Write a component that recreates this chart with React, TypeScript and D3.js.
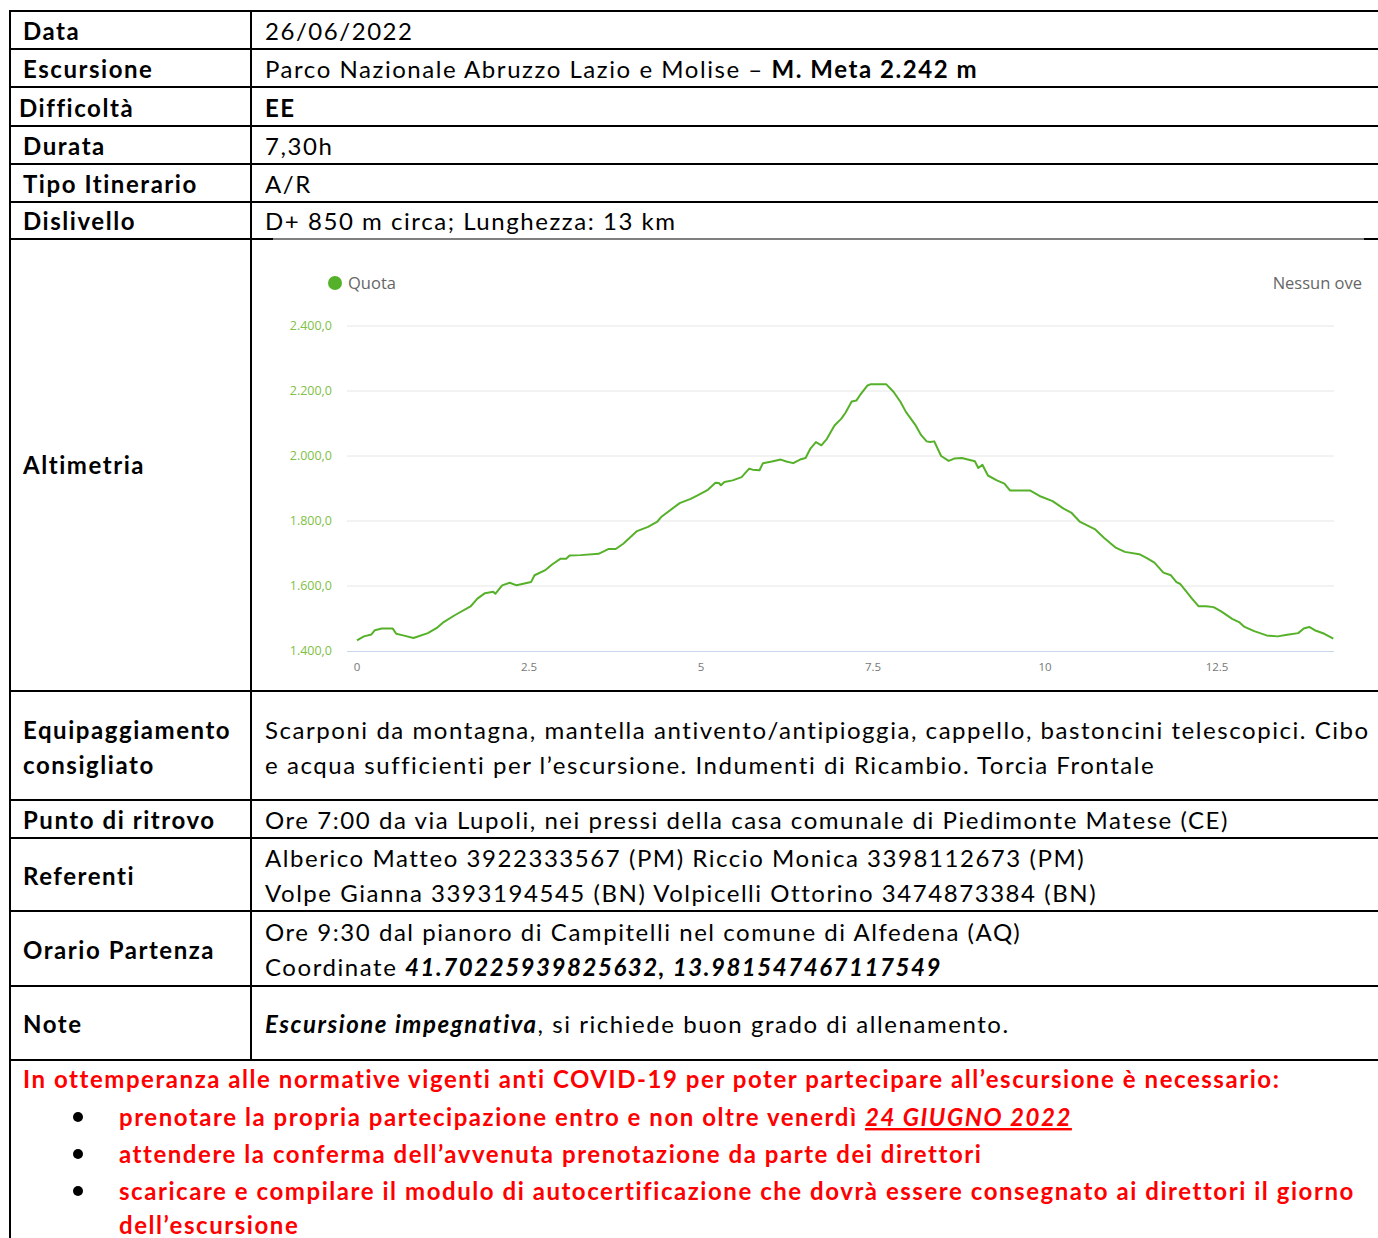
import React from 'react';
import * as d3 from 'd3';

// elevation profile (km, m)
const km = [0, 0.1, 0.21, 0.26, 0.36, 0.52, 0.57, 0.67, 0.82, 1.03, 1.16, 1.26, 1.42, 1.65, 1.75, 1.86, 1.98, 2.01, 2.11, 2.22, 2.32, 2.53, 2.58, 2.73, 2.84, 2.96, 3.04, 3.09, 3.25, 3.51, 3.66, 3.76, 3.87, 4.07, 4.23, 4.36, 4.43, 4.69, 4.85, 4.95, 5.1, 5.21, 5.26, 5.29, 5.34, 5.46, 5.59, 5.7, 5.75, 5.85, 5.9, 6.03, 6.16, 6.24, 6.34, 6.44, 6.52, 6.59, 6.67, 6.75, 6.83, 6.94, 7.04, 7.1, 7.19, 7.26, 7.31, 7.42, 7.47, 7.69, 7.8, 7.9, 7.98, 8.12, 8.2, 8.28, 8.33, 8.39, 8.49, 8.6, 8.68, 8.79, 8.98, 9.03, 9.09, 9.17, 9.3, 9.41, 9.49, 9.78, 9.92, 10.11, 10.27, 10.38, 10.51, 10.73, 10.86, 11.02, 11.16, 11.37, 11.48, 11.59, 11.72, 11.83, 11.91, 11.96, 12.02, 12.13, 12.23, 12.34, 12.45, 12.56, 12.72, 12.82, 12.9, 13.04, 13.22, 13.38, 13.52, 13.68, 13.76, 13.84, 13.92, 14.06, 14.19];
const quota = [1433, 1445, 1451, 1464, 1469, 1469, 1453, 1448, 1440, 1455, 1471, 1489, 1510, 1537, 1561, 1578, 1582, 1576, 1602, 1610, 1602, 1612, 1633, 1648, 1667, 1684, 1684, 1694, 1695, 1699, 1714, 1714, 1730, 1769, 1782, 1797, 1814, 1855, 1868, 1879, 1896, 1918, 1917, 1910, 1920, 1925, 1935, 1961, 1958, 1956, 1978, 1983, 1989, 1983, 1978, 1989, 1994, 2023, 2043, 2033, 2053, 2094, 2115, 2133, 2168, 2171, 2187, 2217, 2221, 2221, 2197, 2166, 2135, 2094, 2064, 2045, 2043, 2045, 2000, 1985, 1992, 1994, 1984, 1963, 1973, 1940, 1925, 1915, 1894, 1894, 1877, 1861, 1838, 1826, 1797, 1774, 1748, 1719, 1705, 1698, 1686, 1672, 1641, 1633, 1612, 1607, 1592, 1563, 1538, 1538, 1535, 1522, 1499, 1489, 1474, 1461, 1448, 1445, 1450, 1455, 1469, 1474, 1464, 1453, 1438];
const yTicks = [1400, 1600, 1800, 2000, 2200, 2400];
const xTicks = [0, 2.5, 5, 7.5, 10, 12.5];
const seriesName = 'Quota';

// table rows
const simpleRows = [
  { label: 'Data', value: '26/06/2022' },
  { label: 'Difficoltà', value: 'EE', bold: true },
  { label: 'Durata', value: '7,30h' },
  { label: 'Tipo Itinerario', value: 'A/R' },
  { label: 'Dislivello', value: 'D+ 850 m circa; Lunghezza:  13 km' },
];
const bullets = [
  'prenotare la propria partecipazione entro e non oltre venerdì ',
  'attendere la conferma dell’avvenuta prenotazione da parte dei direttori',
  'scaricare e compilare il modulo di autocertificazione che dovrà essere consegnato ai direttori il giorno',
];

const itLocale = d3.formatLocale({ decimal: ',', thousands: '.', grouping: [3], currency: ['', '€'] });
const fmtY = itLocale.format(',.1f');

const FONT = "Lato, 'Open Sans', sans-serif";
const CHART_FONT = "'Open Sans', sans-serif";
const LINE_GREEN = '#56b12a';

function Chart() {
  const x = d3.scaleLinear().domain([0, 14.2]).range([357, 1334]);
  const y = d3.scaleLinear().domain([1400, 2400]).range([651, 326]);
  const pts = km.map((k, i) => [k, quota[i]] as [number, number]);
  const line = d3.line<[number, number]>().x(d => x(d[0])).y(d => y(d[1]));
  return (
    <g fontFamily={CHART_FONT}>
      <circle cx={335} cy={283} r={7} fill={LINE_GREEN} />
      <text x={348} y={289} fontSize={16.5} fill="#666">{seriesName}</text>
      <text x={1362} y={289} fontSize={16.5} fill="#666" textAnchor="end">Nessun ove</text>
      {yTicks.map(t => (
        <g key={t}>
          {t !== 1400 && <line x1={347} x2={1334} y1={y(t)} y2={y(t)} stroke="#e6e6e6" strokeWidth={1} />}
          <text x={332} y={y(t) + 4} fontSize={12.5} fill="#80c046" textAnchor="end">{fmtY(t)}</text>
        </g>
      ))}
      <line x1={347} x2={1334} y1={y(1400) + 0.5} y2={y(1400) + 0.5} stroke="#ccd6eb" strokeWidth={1} />
      {xTicks.map(t => (
        <text key={t} x={x(t)} y={671} fontSize={11.5} fill="#777" textAnchor="middle">{String(t)}</text>
      ))}
      <path d={line(pts) || ''} fill="none" stroke={LINE_GREEN} strokeWidth={2} strokeLinejoin="round" />
    </g>
  );
}

export default function App() {
  const hLines = [11, 49, 87, 126, 164, 202, 691, 800, 838, 911, 986, 1060];
  const rowY: Record<string, number> = { Data: 40, 'Difficoltà': 117, Durata: 155, 'Tipo Itinerario': 193, Dislivello: 230 };
  return (
    <svg width={1378} height={1238} style={{ position: 'absolute', left: 0, top: 0, background: '#fff' }}>
      <rect width={1378} height={1238} fill="#fff" />
      {/* borders */}
      {hLines.map(v => (
        <line key={v} x1={9} x2={1378} y1={v} y2={v} stroke="#000" strokeWidth={2} />
      ))}
      <line x1={9} x2={273} y1={239} y2={239} stroke="#000" strokeWidth={2} />
      <line x1={273} x2={1364} y1={239} y2={239} stroke="#000" strokeWidth={1} />
      <line x1={1364} x2={1378} y1={239} y2={239} stroke="#000" strokeWidth={2} />
      <line x1={10} x2={10} y1={10} y2={1238} stroke="#000" strokeWidth={2} />
      <line x1={251} x2={251} y1={10} y2={1061} stroke="#000" strokeWidth={2} />

      <g fontFamily={FONT} fontSize={24} fill="#000" letterSpacing={1.55} style={{ whiteSpace: 'pre' }}>
        {simpleRows.map(r => (
          <g key={r.label}>
            <text x={r.label === 'Difficoltà' ? 19 : 23} y={rowY[r.label]} fontWeight="bold">{r.label}</text>
            <text x={265} y={rowY[r.label]} fontWeight={r.bold ? 'bold' : 'normal'}>{r.value}</text>
          </g>
        ))}
        <text x={23} y={78} fontWeight="bold">Escursione</text>
        <text x={265} y={78}>{'Parco Nazionale Abruzzo Lazio e Molise –  '}<tspan fontWeight="bold">M. Meta 2.242 m</tspan></text>
        <text x={23} y={474} fontWeight="bold">Altimetria</text>

        <text x={23} y={739} fontWeight="bold">Equipaggiamento</text>
        <text x={23} y={774} fontWeight="bold">consigliato</text>
        <text x={265} y={739}>Scarponi da montagna, mantella antivento/antipioggia, cappello, bastoncini telescopici. Cibo</text>
        <text x={265} y={774}>e acqua sufficienti per l’escursione. Indumenti di Ricambio. Torcia Frontale</text>

        <text x={23} y={829} fontWeight="bold">Punto di ritrovo</text>
        <text x={265} y={829}>Ore 7:00 da via Lupoli, nei pressi della casa comunale di Piedimonte Matese (CE)</text>

        <text x={23} y={885} fontWeight="bold">Referenti</text>
        <text x={265} y={867}>{'Alberico Matteo 3922333567 (PM)  Riccio Monica 3398112673 (PM)'}</text>
        <text x={265} y={902}>Volpe Gianna 3393194545 (BN) Volpicelli Ottorino 3474873384 (BN)</text>

        <text x={23} y={959} fontWeight="bold">Orario Partenza</text>
        <text x={265} y={941}>Ore 9:30 dal pianoro di Campitelli nel comune di Alfedena (AQ)</text>
        <text x={265} y={976}>{'Coordinate '}<tspan fontWeight="bold" fontStyle="italic">41.70225939825632, 13.981547467117549</tspan></text>

        <text x={23} y={1033} fontWeight="bold">Note</text>
        <text x={265} y={1033}><tspan fontWeight="bold" fontStyle="italic">Escursione impegnativa</tspan>, si richiede buon grado di allenamento.</text>

        <g fill="#ff0000" fontWeight="bold">
          <text x={23} y={1088}>In ottemperanza alle normative vigenti anti COVID-19 per poter partecipare all’escursione è necessario:</text>
          {bullets.map((b, i) => (
            <g key={i}>
              <circle cx={78} cy={1117 + i * 37} r={5} fill="#000" />
              <text x={119} y={1126 + i * 37}>
                {b}
                {i === 0 && <tspan fontStyle="italic" textDecoration="underline">24 GIUGNO 2022</tspan>}
              </text>
            </g>
          ))}
          <text x={119} y={1234}>dell’escursione</text>
        </g>
      </g>
      <Chart />
    </svg>
  );
}
